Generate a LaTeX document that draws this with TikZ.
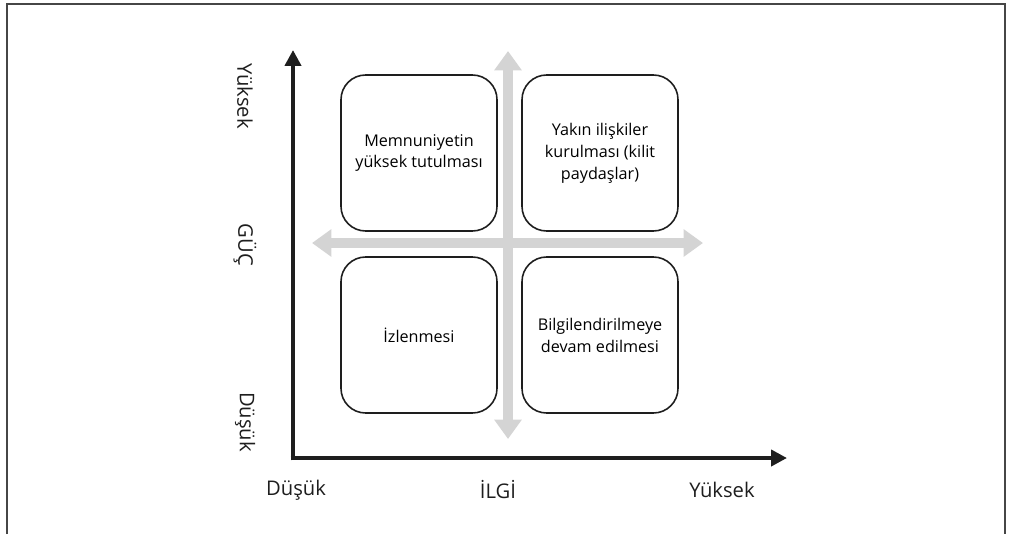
\documentclass[tikz,border=0pt]{standalone}
\usepackage{fontspec}
\setmainfont{Open Sans}
\usetikzlibrary{arrows.meta}
\definecolor{axisblack}{RGB}{30,30,30}
\definecolor{crossgray}{RGB}{212,212,212}
\definecolor{framegray}{RGB}{70,70,70}
\tikzstyle{axisline}=[draw=axisblack,line width=2.8pt,-{Triangle[length=9pt,width=9pt]}]
\tikzstyle{crossline}=[draw=crossgray,line width=5.5pt,-{Triangle[length=11pt,width=15pt]}]
\tikzstyle{quadbox}=[draw=axisblack,line width=0.9pt,rounded corners=14pt,minimum width=156*0.02cm,minimum height=156*0.02cm,align=center,font=\fontsize{9.2}{12.5}\selectfont,inner sep=2pt]
\tikzstyle{axislabel}=[font=\fontsize{11.5}{13}\selectfont,text=axisblack]

\begin{document}
\begin{tikzpicture}[x=0.02cm,y=-0.02cm]
    \useasboundingbox (0,0) rectangle (1013,534);
    % frame, open at the bottom
    \draw[framegray,line width=1.1pt] (7,534) -- (7,4) -- (1005,4) -- (1005,534);

    % axes
    \coordinate (origin) at (293,458);
    \coordinate (ytip) at (293,50);
    \coordinate (xtip) at (787,458);
    \draw[axisline,arrows=-] (293,460) -- (origin);
    \draw[axisline] ([yshift=-1.4pt]origin) -- (ytip);
    \draw[axisline] ([xshift=-1.4pt]origin) -- (xtip);

    % gray cross
    \coordinate (cbot) at (508,439);
    \coordinate (ctop) at (508,51);
    \coordinate (cleft) at (312,243);
    \coordinate (cright) at (703,243);
    \draw[crossline] (508,243) -- (ctop);
    \draw[crossline] (508,243) -- (cbot);
    \draw[crossline] (508,243) -- (cleft);
    \draw[crossline] (508,243) -- (cright);

    % quadrants
    \node[quadbox] (tl) at (419,153) {Memnuniyetin\\yüksek tutulması};
    \node[quadbox] (tr) at (600,153) {Yakın ilişkiler\\kurulması (kilit\\paydaşlar)};
    \node[quadbox] (bl) at (419,335) {İzlenmesi};
    \node[quadbox] (br) at (600,335) {Bilgilendirilmeye\\devam edilmesi};

    % axis labels
    \node[axislabel,rotate=-90] (ghigh) at (245,96) {Yüksek};
    \node[axislabel,rotate=-90] (gname) at (245,245) {GÜÇ};
    \node[axislabel,rotate=-90] (glow) at (245,422) {Düşük};
    \node[axislabel] (ilow) at (296,490) {Düşük};
    \node[axislabel] (iname) at (498,490) {İLGİ};
    \node[axislabel] (ihigh) at (722,490) {Yüksek};
  \end{tikzpicture}
\end{document}
